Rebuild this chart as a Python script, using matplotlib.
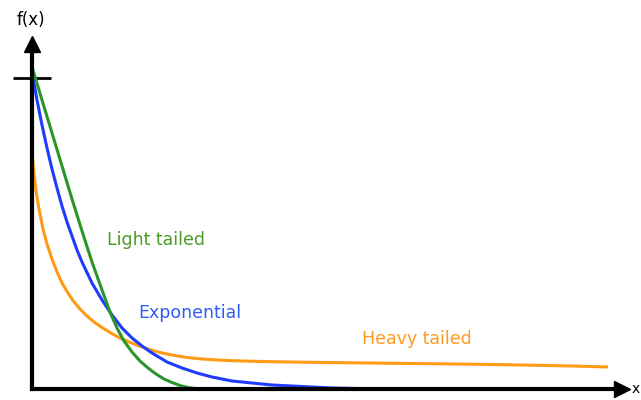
import matplotlib
matplotlib.use("Agg")
import matplotlib.pyplot as plt

# curves (x along the axis, f(x) height)
light_x = [0.00, 0.10, 0.20, 0.30, 0.40, 0.50, 0.60, 0.70, 0.78, 0.85, 0.92, 1.00, 1.08, 1.16,
           1.24, 1.32, 1.40, 1.48, 1.56, 1.64, 1.70]
light_y = [3.22, 2.89, 2.56, 2.23, 1.90, 1.58, 1.27, 0.99, 0.77, 0.61, 0.48, 0.37, 0.28, 0.21,
           0.15, 0.10, 0.065, 0.035, 0.015, 0.003, 0.0]

expo_x = [0.00, 0.05, 0.10, 0.15, 0.20, 0.25, 0.30, 0.35, 0.40, 0.45, 0.50, 0.60, 0.70, 0.80,
          0.90, 1.00, 1.10, 1.20, 1.35, 1.50, 1.65, 1.80, 2.00, 2.20, 2.40, 2.60, 2.80, 3.00, 3.50]
expo_y = [3.17, 2.89, 2.64, 2.41, 2.20, 2.01, 1.83, 1.67, 1.53, 1.39, 1.27, 1.06, 0.89, 0.74,
          0.61, 0.51, 0.43, 0.36, 0.27, 0.21, 0.16, 0.12, 0.08, 0.06, 0.04, 0.03, 0.02, 0.01, 0.0]

heavy_x = [0.00, 0.02, 0.04, 0.07, 0.11, 0.15, 0.20, 0.25, 0.30, 0.36, 0.42, 0.48, 0.55, 0.62,
           0.70, 0.78, 0.87, 0.96, 1.06, 1.16, 1.28, 1.40, 1.55, 1.70, 1.85, 2.00, 2.30, 2.70,
           3.20, 3.80, 4.40, 5.00, 5.40, 5.76]
heavy_y = [2.37, 2.16, 1.98, 1.80, 1.60, 1.45, 1.30, 1.17, 1.06, 0.96, 0.87, 0.80, 0.73, 0.67,
           0.615, 0.565, 0.515, 0.475, 0.435, 0.40, 0.365, 0.34, 0.315, 0.30, 0.29, 0.283, 0.275,
           0.268, 0.262, 0.255, 0.248, 0.238, 0.23, 0.22]

tick_y = [3.11]

fig = plt.figure(figsize=(6.41, 4.0), dpi=100)
ax = fig.add_axes([0, 0, 1, 1])
ax.set_xlim(-0.32, 6.09)
ax.set_ylim(-0.11, 3.89)

style = dict(lw=2.2, solid_capstyle="butt", solid_joinstyle="round")
ax.plot(heavy_x, heavy_y, color="#ff9a14", **style)
ax.plot(expo_x, expo_y, color="#1e3cff", **style)
ax.plot(light_x, light_y, color="#2a962a", **style)

# axes drawn as arrows through the origin
for s in ["top", "right"]:
    ax.spines[s].set_visible(False)
ax.spines["left"].set_position(("data", 0))
ax.spines["bottom"].set_position(("data", 0))
ax.spines["left"].set_linewidth(3)
ax.spines["bottom"].set_linewidth(3)
ax.spines["left"].set_bounds(0, 3.45)
ax.spines["bottom"].set_bounds(0, 5.9)
ax.plot(5.9, 0, ">k", ms=11, clip_on=False)
ax.plot(0, 3.45, "^k", ms=11, clip_on=False)

ax.set_xticks([])
ax.set_yticks(tick_y)
ax.set_yticklabels([])
ax.tick_params(axis="y", direction="inout", length=28, width=2, color="black")

ax.text(-0.01, 3.69, "f(x)", fontsize=12, ha="center", va="center")
ax.text(6.0, 0.0, "x", fontsize=10, ha="left", va="center")

ax.text(1.24, 1.49, "Light tailed", fontsize=12.5, color="#4e9a28", ha="center", va="center")
ax.text(1.58, 0.76, "Exponential", fontsize=12.5, color="#2f5cf5", ha="center", va="center")
ax.text(3.85, 0.50, "Heavy tailed", fontsize=12.5, color="#ff9a1f", ha="center", va="center")

fig.savefig("out.png", dpi=100)
